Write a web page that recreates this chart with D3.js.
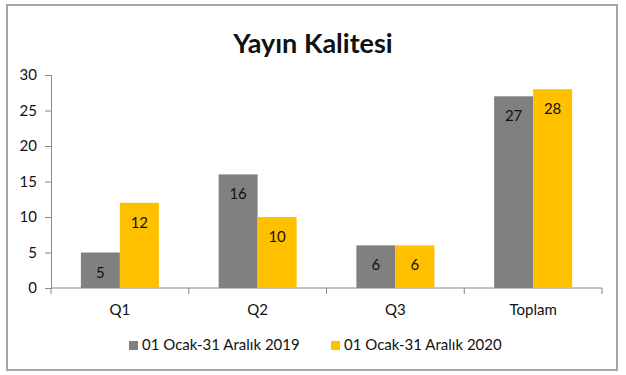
<!DOCTYPE html>
<html>
<head>
<meta charset="utf-8">
<script src="https://cdn.jsdelivr.net/npm/d3@7"></script>
<style>
  body { margin: 0; background: #fff; }
  svg text { font-family: "Lato", "Open Sans", sans-serif; fill: #111; }
</style>
</head>
<body>
<div id="chart"></div>
<script>
// chart data
var categories = ["Q1", "Q2", "Q3", "Toplam"];
var seriesNames = ["01 Ocak-31 Aralık 2019", "01 Ocak-31 Aralık 2020"];
var values2019 = [5, 16, 6, 27];
var values2020 = [12, 10, 6, 28];
var yTicks = [0, 5, 10, 15, 20, 25, 30];
var colors = ["#808080", "#ffc000"];

var W = 626, H = 375;
var margin = {top: 75, left: 51, right: 24, bottom: 87};
var width = W - margin.left - margin.right,
    height = H - margin.top - margin.bottom;

var svg = d3.select("#chart").append("svg")
  .attr("width", W)
  .attr("height", H);

// outer frame
svg.append("rect")
  .attr("x", 7).attr("y", 5)
  .attr("width", 610).attr("height", 365)
  .attr("fill", "#fff")
  .attr("stroke", "#a6a6a6")
  .attr("stroke-width", 2);

svg.append("text")
  .attr("x", 313).attr("y", 53)
  .attr("text-anchor", "middle")
  .style("font-size", "27px")
  .style("font-weight", "bold")
  .text("Yayın Kalitesi");

var g = svg.append("g")
  .attr("transform", "translate(" + margin.left + "," + margin.top + ")");

var x = d3.scaleBand().domain(categories).range([0, width]).paddingInner(0).paddingOuter(0);
var x1 = d3.scaleBand().domain([0, 1]).range([0, 78]);
var y = d3.scaleLinear().domain([0, 30]).range([height, 0]);

// y axis
var yAxis = g.append("g").call(d3.axisLeft(y).tickValues(yTicks).tickSize(6).tickPadding(8));
yAxis.select(".domain").attr("stroke", "#888");
yAxis.selectAll(".tick line").attr("stroke", "#888");
yAxis.selectAll("text").style("font-size", "15px").attr("fill", "#111");

// x axis with ticks on band boundaries
var xAxisG = g.append("g").attr("transform", "translate(0," + height + ")");
xAxisG.append("line")
  .attr("x1", 0).attr("x2", width)
  .attr("stroke", "#888");
var bounds = categories.map(function(c) { return x(c); }).concat([width]);
xAxisG.selectAll("line.tk").data(bounds).enter().append("line")
  .attr("class", "tk")
  .attr("x1", function(d) { return d; }).attr("x2", function(d) { return d; })
  .attr("y1", 0).attr("y2", 6)
  .attr("stroke", "#888");
xAxisG.selectAll("text").data(categories).enter().append("text")
  .attr("x", function(d) { return x(d) + x.bandwidth() / 2; })
  .attr("y", 27)
  .attr("text-anchor", "middle")
  .style("font-size", "15px")
  .text(function(d) { return d; });

// bars
var rows = categories.map(function(c, i) {
  return {cat: c, vals: [values2019[i], values2020[i]]};
});
var groups = g.selectAll("g.grp").data(rows).enter().append("g")
  .attr("class", "grp")
  .attr("transform", function(d) { return "translate(" + (x(d.cat) + x.bandwidth() / 2 - 39) + ",0)"; });

var bar = groups.selectAll("g.bar").data(function(d) { return d.vals; }).enter().append("g")
  .attr("class", "bar");
bar.append("rect")
  .attr("x", function(d, i) { return x1(i); })
  .attr("width", x1.bandwidth())
  .attr("y", function(d) { return y(d); })
  .attr("height", function(d) { return height - y(d); })
  .attr("fill", function(d, i) { return colors[i]; });
bar.append("text")
  .attr("x", function(d, i) { return x1(i) + x1.bandwidth() / 2; })
  .attr("y", function(d) { return y(d) + 25; })
  .attr("text-anchor", "middle")
  .style("font-size", "15px")
  .text(function(d) { return d; });

// legend
var legendX = [129, 331];
var legend = svg.selectAll("g.leg").data(seriesNames).enter().append("g")
  .attr("class", "leg")
  .attr("transform", function(d, i) { return "translate(" + legendX[i] + ",341)"; });
legend.append("rect")
  .attr("width", 9).attr("height", 9)
  .attr("fill", function(d, i) { return colors[i]; });
legend.append("text")
  .attr("x", 13).attr("y", 9)
  .style("font-size", "15px")
  .text(function(d) { return d; });
</script>
</body>
</html>
